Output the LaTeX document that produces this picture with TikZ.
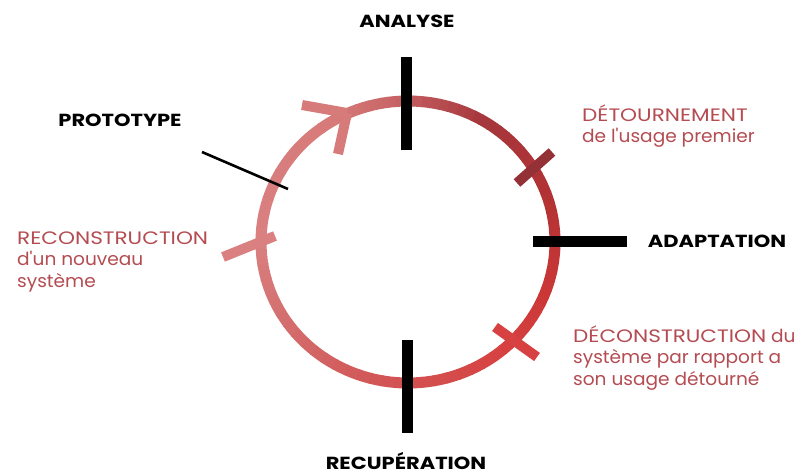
\documentclass[tikz,border=0pt]{standalone}
\usepackage{fontspec}
\setmainfont{Poppins}
\newfontfamily\widecaps[FakeStretch=1.2]{Poppins}
\newfontfamily\widelow[FakeStretch=1.03]{Poppins}
\definecolor{c180}{RGB}{218,128,128}
\definecolor{c120}{RGB}{214,122,122}
\definecolor{c95}{RGB}{200,100,102}
\definecolor{c60}{RGB}{165,55,60}
\definecolor{c20}{RGB}{178,50,52}
\definecolor{cm20}{RGB}{202,55,55}
\definecolor{cm50}{RGB}{215,65,65}
\definecolor{cm100}{RGB}{210,85,85}
\definecolor{cm150}{RGB}{212,112,112}
\definecolor{redtext}{RGB}{180,76,82}
\newcommand{\CW}[1]{{\widecaps #1}}
\newcommand{\LW}[1]{{\widelow #1}}
\tikzset{
  blackbar/.style={line width=11pt, black},
  thinbar/.style={line width=2.6pt, black},
  ringtick/.style={line width=10pt},
  boldlabel/.style={font=\fontsize{17.5}{20}\selectfont\widecaps\bfseries, text=black, inner sep=0pt},
  redlabel/.style={font=\fontsize{18}{21.5}\selectfont, text=redtext, align=left, inner sep=0pt},
}
\begin{document}
\begin{tikzpicture}[x=1pt,y=-1pt]
\useasboundingbox (0,0) rectangle (801,476);
\fill[white] (0,0) rectangle (801,476);
% ring as coloured segments
\foreach \a/\b/\ca/\cb in {-180/-150/c180/cm150, -150/-100/cm150/cm100, -100/-50/cm100/cm50, -50/-20/cm50/cm20, -20/20/cm20/c20, 20/60/c20/c60, 60/95/c60/c95, 95/120/c95/c120, 120/180/c120/c180}{
  \foreach \i in {0,...,9}{
    \pgfmathsetmacro\sa{\a+(\b-\a)*\i/10}
    \pgfmathsetmacro\sb{\a+(\b-\a)*(\i+1)/10+0.4}
    \pgfmathsetmacro\p{100-10*\i-5}
    \draw[line width=11pt, color=\ca!\p!\cb]
      plot[domain=\sa:\sb, samples=4, smooth] ({408+147*cos(\x)},{242-141*sin(\x)});
  }
}
% coordinates
\coordinate (anT1) at (406,57);  \coordinate (anT2) at (406,150);
\coordinate (reB1) at (407,340); \coordinate (reB2) at (407,433);
\coordinate (adR1) at (533,241); \coordinate (adR2) at (627,241);
\coordinate (prA) at (202,152);  \coordinate (prB) at (288,189);
\coordinate (arTip) at (347,113); \coordinate (arL) at (302,105); \coordinate (arD) at (338,154);
\coordinate (tkL1) at (223,257); \coordinate (tkL2) at (275,236);
\coordinate (tkTR1) at (552,152); \coordinate (tkTR2) at (517,183);
\coordinate (tkBR1) at (495,327); \coordinate (tkBR2) at (537,357);
% ticks on ring
\draw[ringtick, c120] (arL) -- (arTip);
\draw[ringtick, c120] (arD) -- (arTip);
\draw[ringtick, c180] (tkL1) -- (tkL2);
\draw[ringtick, c60!90!black] (tkTR1) -- (tkTR2);
\draw[ringtick, cm50] (tkBR1) -- (tkBR2);
% black bars
\draw[blackbar] (anT1) -- (anT2);
\draw[blackbar] (reB1) -- (reB2);
\draw[blackbar] (adR1) -- (adR2);
\draw[thinbar] (prA) -- (prB);
% labels
\node[boldlabel] (analyse) at (407,21) {ANALYSE};
\node[boldlabel] (prototype) at (120,120) {PROTOTYPE};
\node[boldlabel] (adaptation) at (717,241) {ADAPTATION};
\node[boldlabel, anchor=base] (recup) at (406,469) {RECUPÉRATION};
\node[redlabel, anchor=base west] (detour) at (582,143) {\CW{DÉTOURNEMENT}\\\LW{de l'usage premier}};
\node[redlabel, anchor=base west] (recons) at (17,287) {\CW{RECONSTRUCTION}\\\LW{d'un nouveau}\\\LW{système}};
\node[redlabel, anchor=base west] (decons) at (573,385) {\CW{DÉCONSTRUCTION} \LW{du}\\\LW{système par rapport a}\\\LW{son usage détourné}};
\end{tikzpicture}
\end{document}
